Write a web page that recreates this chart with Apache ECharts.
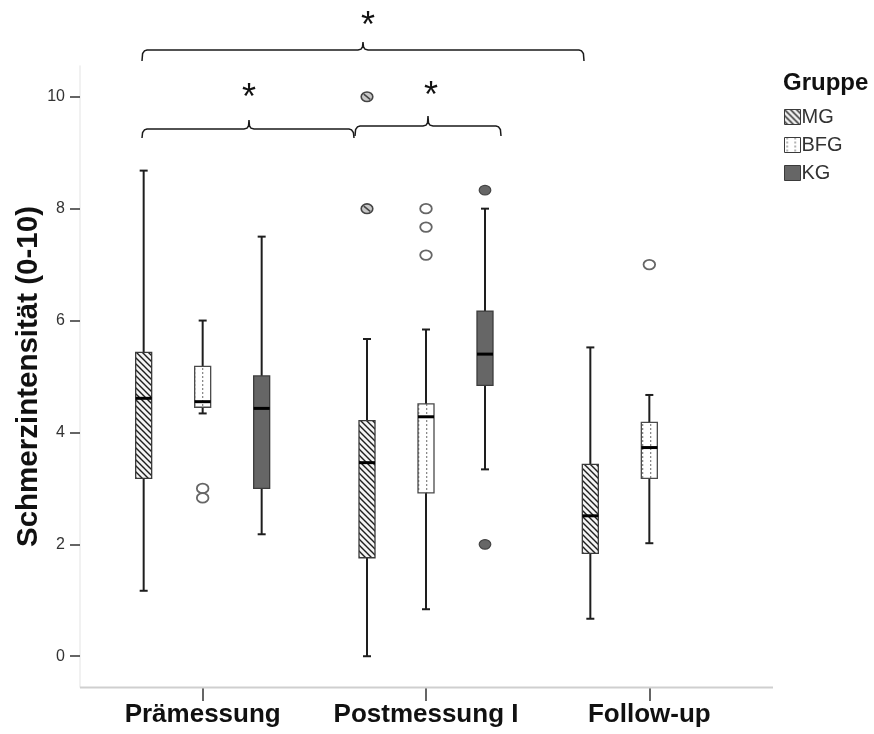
<!DOCTYPE html>
<html>
<head>
<meta charset="utf-8">
<script src="https://cdn.jsdelivr.net/npm/echarts@6/dist/echarts.min.js"></script>
<style>
  html, body { margin: 0; padding: 0; background: #fff; }
  #chart { width: 874px; height: 734px; }
</style>
</head>
<body>
<div id="chart"></div>
<script>
// Time points and groups
const categories = ['Prämessung', 'Postmessung I', 'Follow-up'];
const groups = ['MG', 'BFG', 'KG'];
const yTicks = [0, 2, 4, 6, 8, 10];

// Box statistics per time point: [lower whisker, Q1, median, Q3, upper whisker]
const boxMG  = [[1.17, 3.18, 4.61, 5.43, 8.68], [0.00, 1.76, 3.46, 4.21, 5.67], [0.67, 1.84, 2.51, 3.43, 5.52]];
const boxBFG = [[4.34, 4.45, 4.55, 5.18, 6.00], [0.84, 2.92, 4.28, 4.51, 5.84], [2.02, 3.18, 3.73, 4.18, 4.67]];
const boxKG  = [[2.18, 3.00, 4.43, 5.01, 7.50], [3.34, 4.84, 5.40, 6.17, 8.00], null];

// Outliers: [time point index, value]
const outMG  = [[1, 10.0], [1, 8.0]];
const outBFG = [[0, 3.0], [0, 2.83], [1, 8.0], [1, 7.67], [1, 7.17], [2, 7.0]];
const outKG  = [[1, 8.33], [1, 2.0]];

const FONT = '"Liberation Sans", Arial, sans-serif';

// Fill patterns
function hatchCanvas() {
  const c = document.createElement('canvas');
  c.width = 6; c.height = 6;
  const g = c.getContext('2d');
  g.fillStyle = '#f4f4f4'; g.fillRect(0, 0, 6, 6);
  g.strokeStyle = '#1e1e1e'; g.lineWidth = 1.4;
  g.beginPath();
  g.moveTo(-1, -1); g.lineTo(7, 7);
  g.moveTo(-1, 5); g.lineTo(1, 7);
  g.moveTo(5, -1); g.lineTo(7, 1);
  g.stroke();
  return c;
}
function dotCanvas() {
  const c = document.createElement('canvas');
  c.width = 8; c.height = 4;
  const g = c.getContext('2d');
  g.fillStyle = '#ffffff'; g.fillRect(0, 0, 8, 4);
  g.fillStyle = '#8a8a8a'; g.fillRect(2, 0, 1.3, 2);
  return c;
}
const hatchFill = { image: hatchCanvas(), repeat: 'repeat' };
const dotFill = { image: dotCanvas(), repeat: 'repeat' };

const styles = {
  MG:  { offset: -59, fill: hatchFill, stroke: '#3a3a3a' },
  BFG: { offset: 0,   fill: dotFill,   stroke: '#4a4a4a' },
  KG:  { offset: 59,  fill: '#666666', stroke: '#3c3c3c' }
};

const BOX_W = 16;
const CAP_W = 8;

function boxRender(st) {
  return function (params, api) {
    const cat = api.value(0);
    const x = api.coord([cat, 0])[0] + st.offset;
    const yLo = api.coord([cat, api.value(1)])[1];
    const yQ1 = api.coord([cat, api.value(2)])[1];
    const yMd = api.coord([cat, api.value(3)])[1];
    const yQ3 = api.coord([cat, api.value(4)])[1];
    const yHi = api.coord([cat, api.value(5)])[1];
    const wl = { stroke: '#1e1e1e', lineWidth: 2 };
    return {
      type: 'group',
      children: [
        { type: 'line', shape: { x1: x, y1: yHi, x2: x, y2: yQ3 }, style: wl },
        { type: 'line', shape: { x1: x, y1: yQ1, x2: x, y2: yLo }, style: wl },
        { type: 'line', shape: { x1: x - CAP_W / 2, y1: yHi, x2: x + CAP_W / 2, y2: yHi }, style: wl },
        { type: 'line', shape: { x1: x - CAP_W / 2, y1: yLo, x2: x + CAP_W / 2, y2: yLo }, style: wl },
        { type: 'rect', shape: { x: x - BOX_W / 2, y: yQ3, width: BOX_W, height: yQ1 - yQ3 },
          style: { fill: st.fill, stroke: st.stroke, lineWidth: 1.3 } },
        { type: 'line', shape: { x1: x - BOX_W / 2, y1: yMd, x2: x + BOX_W / 2, y2: yMd },
          style: { stroke: '#000', lineWidth: 3 } }
      ]
    };
  };
}

function outlierRender(name) {
  const st = styles[name];
  return function (params, api) {
    const cat = api.value(0);
    const p = api.coord([cat, api.value(1)]);
    const x = p[0] + st.offset, y = p[1];
    const ell = { type: 'ellipse', shape: { cx: x, cy: y, rx: 5.8, ry: 4.8 } };
    if (name === 'MG') {
      return { type: 'group', children: [
        Object.assign(ell, { style: { fill: '#c8c8c8', stroke: '#444', lineWidth: 1.6 } }),
        { type: 'line', shape: { x1: x - 3.2, y1: y - 2.6, x2: x + 3.2, y2: y + 2.6 },
          style: { stroke: '#444', lineWidth: 1.6 } }
      ] };
    }
    if (name === 'BFG') {
      return Object.assign(ell, { style: { fill: '#fff', stroke: '#666', lineWidth: 1.8 } });
    }
    return Object.assign(ell, { style: { fill: '#666', stroke: '#444', lineWidth: 1.2 } });
  };
}

function toBoxData(arr) {
  return arr.map((v, i) => v ? [i].concat(v) : null).filter(Boolean);
}

const boxSets = { MG: boxMG, BFG: boxBFG, KG: boxKG };
const outSets = { MG: outMG, BFG: outBFG, KG: outKG };

const series = [];
groups.forEach(name => {
  series.push({
    name: name, type: 'custom', renderItem: boxRender(styles[name]),
    data: toBoxData(boxSets[name]), encode: { x: 0, y: [1, 2, 3, 4, 5] }, z: 3
  });
  series.push({
    name: name, type: 'custom', renderItem: outlierRender(name),
    data: outSets[name], encode: { x: 0, y: 1 }, z: 4
  });
});

// Significance brackets (curly style) with asterisks
function bracket(x1, x2, xm, y, yEnd, yTip) {
  return {
    type: 'polyline',
    shape: { points: [
      [x1, yEnd], [x1 + 0.6, y + 3.5], [x1 + 2.5, y + 0.8], [x1 + 5, y],
      [xm - 5, y], [xm - 2, y - 0.8], [xm - 0.5, y - 3], [xm, yTip],
      [xm + 0.5, y - 3], [xm + 2, y - 0.8], [xm + 5, y],
      [x2 - 5, y], [x2 - 2.5, y + 0.8], [x2 - 0.6, y + 3.5], [x2, yEnd]
    ] },
    style: { stroke: '#1a1a1a', lineWidth: 1.5, fill: null },
    z: 10
  };
}
function star(x, y) {
  return {
    type: 'text', x: x, y: y, z: 10,
    style: { text: '*', font: '36px "Liberation Sans", Arial, sans-serif', fill: '#111',
             textAlign: 'center', textVerticalAlign: 'middle' }
  };
}

const chart = echarts.init(document.getElementById('chart'), null, { renderer: 'canvas' });
chart.setOption({
  animation: false,
  backgroundColor: '#fff',
  title: {
    text: 'Gruppe', left: 778, top: 66,
    textStyle: { fontSize: 24, fontWeight: 'bold', color: '#111', fontFamily: FONT }
  },
  legend: {
    orient: 'vertical', left: 779, top: 102, itemGap: 8,
    itemWidth: 16, itemHeight: 15, icon: 'rect',
    selectedMode: false,
    textStyle: { fontSize: 20, color: '#333', fontFamily: FONT, padding: [0, 0, 0, -4] },
    data: [
      { name: 'MG', itemStyle: { color: hatchFill, borderColor: '#3a3a3a', borderWidth: 1 } },
      { name: 'BFG', itemStyle: { color: dotFill, borderColor: '#3a3a3a', borderWidth: 1 } },
      { name: 'KG', itemStyle: { color: '#666666', borderColor: '#3a3a3a', borderWidth: 1 } }
    ]
  },
  grid: { left: 91, right: 113, top: 66, bottom: 47, containLabel: false, outerBoundsMode: 'none' },
  xAxis: {
    type: 'category', data: categories,
    axisLine: { show: false, onZero: false },
    axisTick: { show: true, alignWithLabel: true, length: 14, lineStyle: { color: '#333', width: 1.5 } },
    axisLabel: { interval: 0, fontSize: 26, fontWeight: 'bold', color: '#111', margin: 15, fontFamily: FONT },
    splitLine: { show: false }
  },
  yAxis: {
    type: 'value', min: -0.55, max: 10.55, offset: 11,
    name: 'Schmerzintensität (0-10)', nameLocation: 'middle', nameGap: 36, nameRotate: 90,
    nameMoveOverlap: false,
    nameTextStyle: { fontSize: 29.5, fontWeight: 'bold', color: '#111', fontFamily: FONT },
    axisLine: { show: true, lineStyle: { color: '#ececec', width: 1.5 } },
    axisTick: { show: true, length: 10, customValues: yTicks, lineStyle: { color: '#333', width: 1.5 } },
    axisLabel: { customValues: yTicks, fontSize: 16, color: '#333', margin: 15, fontFamily: FONT },
    splitLine: { show: false }
  },
  graphic: [
    { type: 'line', shape: { x1: 80, y1: 687.5, x2: 773, y2: 687.5 },
      style: { stroke: '#cfcfcf', lineWidth: 2 }, z: 1 },
    bracket(142, 584, 363, 50, 61, 42),
    bracket(142, 354, 249, 129, 138, 120),
    bracket(355, 501, 428, 126, 136, 116),
    star(368, 27),
    star(249, 99),
    star(431, 97)
  ],
  series: series
});
</script>
</body>
</html>
